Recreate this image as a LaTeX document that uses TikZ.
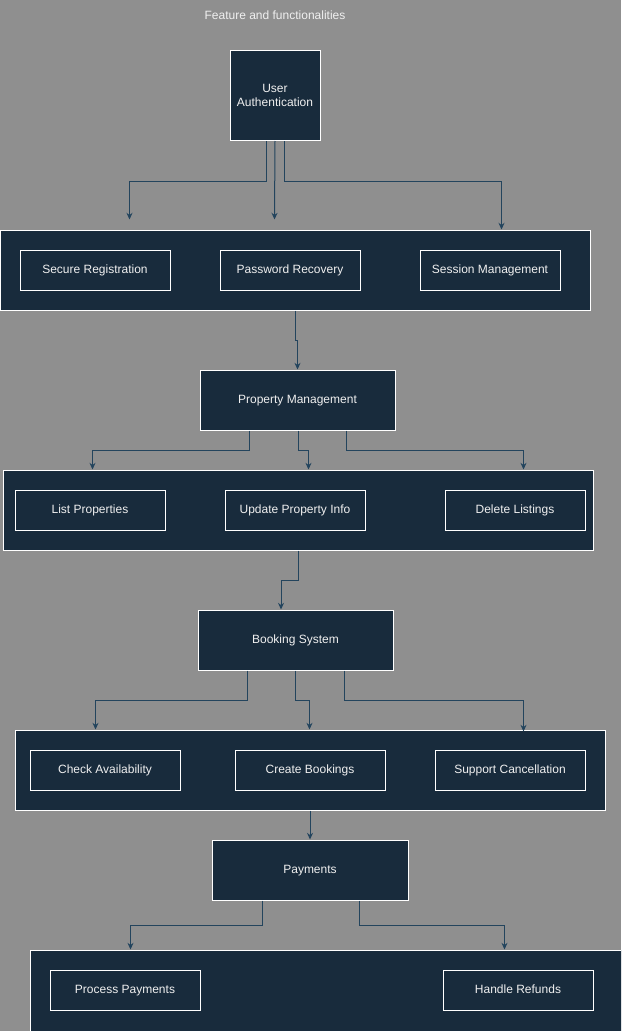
\documentclass[tikz,border=0pt]{standalone}
\usepackage{fontspec}
\setmainfont{Liberation Sans}
\usetikzlibrary{arrows.meta,calc}

\definecolor{bggray}{HTML}{8F8F8F}
\definecolor{boxfill}{HTML}{182B3C}
\definecolor{linkblue}{HTML}{23445D}

\begin{document}
\begin{tikzpicture}[x=0.75pt,y=-0.75pt,
    font=\fontsize{9pt}{10.5pt}\selectfont,
    box/.style={draw=white,fill=boxfill,text=white!94!black,line width=0.75pt,
        inner sep=2pt,align=center},
    oneline/.style={box,text height=6.6pt,text depth=1.2pt},
    group/.style={draw=white,fill=boxfill,line width=0.75pt,inner sep=0pt},
    conn/.style={draw=linkblue,line width=0.75pt,
        -{Stealth[length=5pt,width=4.5pt]}}]

    \fill[bggray] (0,0) rectangle (621,1031);
    \useasboundingbox (0,0) rectangle (621,1031);
    \clip (0,0) rectangle (621,1031);

    \node[text=white!94!black] (title) at (275,15) {Feature and functionalities};

    % User authentication
    \node[box,minimum width=67.5pt,minimum height=67.5pt] (ua) at (275,95.5)
        {User\\Authentication};
    \node[group,minimum width=442.5pt,minimum height=60pt] (g1) at (295,270) {};
    \node[oneline,minimum width=112.5pt,minimum height=30pt] (sr) at (95,270) {Secure Registration};
    \node[oneline,minimum width=105pt,minimum height=30pt] (pr) at (290,270) {Password Recovery};
    \node[oneline,minimum width=105pt,minimum height=30pt] (sm) at (490,270) {Session Management};

    \draw[conn] ($(ua.south)+(-9,0)$) -- ++(0,40) -| ($(g1.north west)+(130,-10)$);
    \draw[conn] (ua.south) -- ($(g1.north west)+(275,-10)$);
    \draw[conn] ($(ua.south)+(9,0)$) -- ++(0,40) -| ($(g1.north west)+(502,0)$);

    % Property management
    \node[oneline,minimum width=146.25pt,minimum height=45pt] (pm) at (297.5,400) {Property Management};
    \node[group,minimum width=442.5pt,minimum height=60pt] (g2) at (298,510) {};
    \node[oneline,minimum width=112.5pt,minimum height=30pt] (lp) at (90,510) {List Properties};
    \node[oneline,minimum width=105pt,minimum height=30pt] (up) at (295,510) {Update Property Info};
    \node[oneline,minimum width=105pt,minimum height=30pt] (dl) at (515,510) {Delete Listings};

    \draw[conn] (g1.south) -- ++(0,30) -| (pm.north);
    \draw[conn] ($(pm.south)+(-48.5,0)$) -- ++(0,20) -| ($(g2.north west)+(90,0)$);
    \draw[conn] ($(pm.south)+(0.5,0)$) -- ++(0,20) -| ($(g2.north west)+(306,0)$);
    \draw[conn] ($(pm.south)+(48.5,0)$) -- ++(0,20) -| ($(g2.north west)+(521,0)$);

    % Booking system
    \node[oneline,minimum width=146.25pt,minimum height=45pt] (bs) at (295.5,640) {Booking System};
    \node[group,minimum width=442.5pt,minimum height=60pt] (g3) at (310,770) {};
    \node[oneline,minimum width=112.5pt,minimum height=30pt] (ca) at (105,770) {Check Availability};
    \node[oneline,minimum width=112.5pt,minimum height=30pt] (cb) at (310,770) {Create Bookings};
    \node[oneline,minimum width=112.5pt,minimum height=30pt] (sc) at (510,770) {Support Cancellation};

    \draw[conn] (g2.south) -- ++(0,30) -| ($(bs.north)+(-14.5,0)$);
    \draw[conn] ($(bs.south)+(-48.5,0)$) -- ++(0,30) -| ($(g3.north west)+(81,0)$);
    \draw[conn] ($(bs.south)+(-0.5,0)$) -- ++(0,30) -| ($(g3.north west)+(295,0)$);
    \draw[conn] ($(bs.south)+(48.5,0)$) -- ++(0,30) -| ($(g3.north west)+(509,2)$);

    % Payments
    \node[oneline,minimum width=147pt,minimum height=45pt] (pay) at (310,870) {Payments};
    \node[group,minimum width=446.25pt,minimum height=63.75pt] (g4) at (327.5,992.5) {};
    \node[oneline,minimum width=112.5pt,minimum height=30pt] (pp) at (125,990) {Process Payments};
    \node[oneline,minimum width=112.5pt,minimum height=30pt] (hr) at (518,990) {Handle Refunds};

    \draw[conn] (g3.south) -- (pay.north);
    \draw[conn] ($(pay.south)+(-48,0)$) -- ++(0,25) -| ($(g4.north west)+(101,0)$);
    \draw[conn] ($(pay.south)+(49,0)$) -- ++(0,25) -| ($(g4.north west)+(475,0)$);
\end{tikzpicture}
\end{document}
